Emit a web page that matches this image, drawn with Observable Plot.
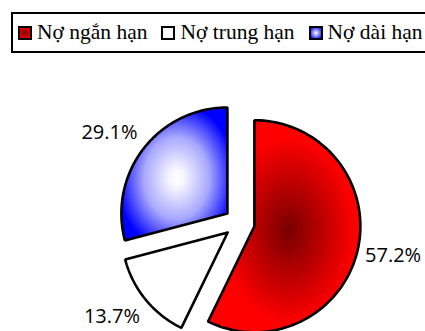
<!DOCTYPE html>
<html><head><meta charset="utf-8">
<script src="https://cdn.jsdelivr.net/npm/d3@7"></script>
<script src="https://cdn.jsdelivr.net/npm/@observablehq/plot@0.6"></script>
<style>
body{margin:0;background:#fff;}
#wrap{position:relative;width:425px;height:331px;overflow:hidden;}
#wrap svg{position:absolute;left:0;top:0;}
#legend{position:absolute;left:11px;top:12px;height:41px;width:440px;box-sizing:border-box;border:2px solid #000;display:flex;align-items:center;padding-left:5px;font-family:"Liberation Serif","Times New Roman",serif;font-size:21.5px;white-space:nowrap;background:#fff;z-index:2;}
.item{display:flex;align-items:center;margin-right:14px;}
.sw{width:14px;height:14px;box-sizing:border-box;border:2px solid #000;margin-right:5px;}
</style></head><body><div id="wrap"></div>
<script>
// data
const categories = ["Nợ ngắn hạn", "Nợ trung hạn", "Nợ dài hạn"];
const shares = [57.2, 13.7, 29.1];
const labels = ["57.2%", "13.7%", "29.1%"];

// styles
const gradIds = ["gRed", "gWhite", "gBlue"];
const swatchCss = [
  "radial-gradient(circle, #800000 0%, #ff0000 100%)",
  "#ffffff",
  "radial-gradient(circle, #ffffff 0%, #0000ff 100%)"
];

const W = 425, H = 331;
const R = 106, CX = 239, CY = 222.3;
const explode = 0.144;
const labelRx = 1.215, labelRy = 1.39;

const arcs = d3.pie().sort(null).value(d => d)(shares);

const slicePts = [];
const labelPts = [];
arcs.forEach((a, i) => {
  const mid = (a.startAngle + a.endAngle) / 2;
  const ox = explode * Math.sin(mid), oy = explode * Math.cos(mid);
  const pts = [{k: i, x: ox, y: oy}];
  const n = 120;
  for (let j = 0; j <= n; j++) {
    const t = a.startAngle + (a.endAngle - a.startAngle) * j / n;
    pts.push({k: i, x: ox + Math.sin(t), y: oy + Math.cos(t)});
  }
  pts.push({k: i, x: ox, y: oy});
  slicePts.push(pts);
  labelPts.push({
    label: labels[i],
    x: labelRx * Math.sin(mid),
    y: labelRy * Math.cos(mid),
    anchor: Math.sin(mid) >= 0 ? "start" : "end"
  });
});

const defs = () => {
  const d = d3.create("svg:defs");
  const red = d.append("radialGradient").attr("id", "gRed").attr("cx", 0.53).attr("cy", 0.52).attr("r", 0.55);
  red.append("stop").attr("offset", 0).attr("stop-color", "#780000");
  red.append("stop").attr("offset", 0.8).attr("stop-color", "#ff0000");
  red.append("stop").attr("offset", 1).attr("stop-color", "#ff0000");
  const blue = d.append("radialGradient").attr("id", "gBlue").attr("cx", 0.52).attr("cy", 0.53).attr("r", 0.56);
  blue.append("stop").attr("offset", 0).attr("stop-color", "#ffffff");
  blue.append("stop").attr("offset", 0.12).attr("stop-color", "#f6f6ff");
  blue.append("stop").attr("offset", 0.55).attr("stop-color", "#a8a8ff");
  blue.append("stop").attr("offset", 1).attr("stop-color", "#0000ff");
  const white = d.append("linearGradient").attr("id", "gWhite");
  white.append("stop").attr("offset", 0).attr("stop-color", "#ffffff");
  white.append("stop").attr("offset", 1).attr("stop-color", "#ffffff");
  return d.node();
};

const chart = Plot.plot({
  width: W, height: H,
  margin: 0,
  x: {domain: [-CX / R, (W - CX) / R], range: [0, W], axis: null},
  y: {domain: [-(H - CY) / R, CY / R], range: [H, 0], axis: null},
  marks: [
    defs,
    ...slicePts.map((pts, i) => Plot.line(pts, {
      x: "x", y: "y", fill: `url(#${gradIds[i]})`, stroke: "#000",
      strokeWidth: 2.6, strokeLinejoin: "miter", curve: "linear"
    })),
    ...["start", "end"].map(anc => Plot.text(labelPts.filter(d => d.anchor === anc), {
      x: "x", y: "y", text: "label", fontSize: 20,
      fontFamily: "Open Sans", fill: "#000", textAnchor: anc
    }))
  ]
});

const wrap = document.getElementById("wrap");
wrap.appendChild(chart);

const legend = document.createElement("div");
legend.id = "legend";
categories.forEach((c, i) => {
  const it = document.createElement("div");
  it.className = "item";
  const sw = document.createElement("div");
  sw.className = "sw";
  sw.style.background = swatchCss[i];
  const tx = document.createElement("span");
  tx.textContent = c;
  it.appendChild(sw); it.appendChild(tx);
  legend.appendChild(it);
});
wrap.appendChild(legend);
</script></body></html>
